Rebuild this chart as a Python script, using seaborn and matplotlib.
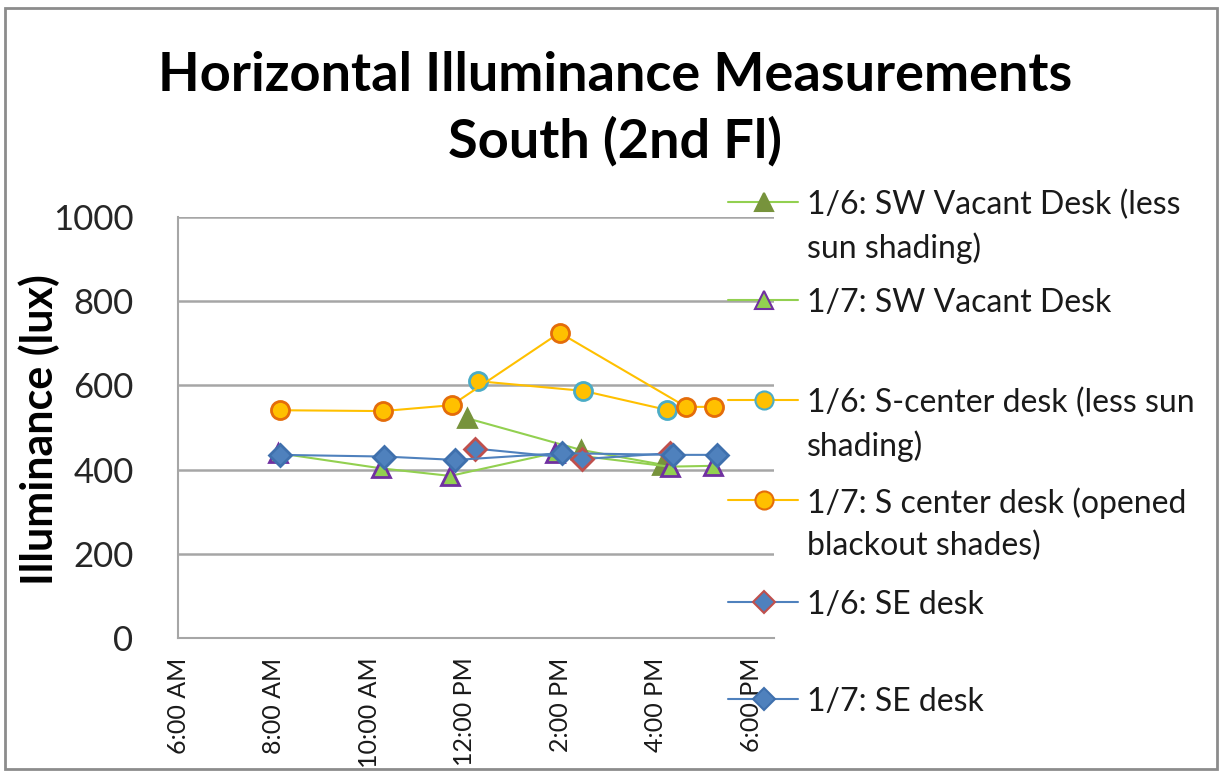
import matplotlib
matplotlib.use("Agg")
import matplotlib.pyplot as plt
from matplotlib.lines import Line2D
from matplotlib.patches import Rectangle
import seaborn as sns
import pandas as pd

sns.set_style("white")
plt.rcParams['font.family'] = ['Lato', 'DejaVu Sans']

# DATA (hours of day, lux)
sw_vacant_0106_hours = [12.05, 14.43, 16.13]
sw_vacant_0106_lux = [522, 447, 412]

sw_vacant_0107_hours = [8.10, 10.25, 11.70, 13.90, 16.30, 17.21]
sw_vacant_0107_lux = [439, 403, 385, 440, 407, 409]

s_center_0106_hours = [12.29, 14.49, 16.23]
s_center_0106_lux = [610, 587, 542]

s_center_0107_hours = [8.14, 10.29, 11.73, 13.99, 16.64, 17.23]
s_center_0107_lux = [541, 539, 553, 725, 549, 549]

se_0106_hours = [12.22, 14.47, 16.30]
se_0106_lux = [450, 425, 439]

se_0107_hours = [8.14, 10.32, 11.81, 14.04, 16.36, 17.28]
se_0107_lux = [435, 431, 423, 439, 435, 435]

labels = [
    '1/6: SW Vacant Desk (less\nsun shading)',
    '1/7: SW Vacant Desk',
    '1/6: S-center desk (less sun\nshading)',
    '1/7: S center desk (opened\nblackout shades)',
    '1/6: SE desk',
    '1/7: SE desk',
]
tick_hours = [6, 8, 10, 12, 14, 16, 18]
tick_labels = ['6:00 AM', '8:00 AM', '10:00 AM', '12:00 PM', '2:00 PM', '4:00 PM', '6:00 PM']
y_ticks = [0, 200, 400, 600, 800, 1000]

# label, hours, lux, line colour, marker, face, edge, size
series = [
    (labels[0], sw_vacant_0106_hours, sw_vacant_0106_lux, '#92D050', '^', '#77933C', '#77933C', 13),
    (labels[1], sw_vacant_0107_hours, sw_vacant_0107_lux, '#92D050', '^', '#92D050', '#7030A0', 13),
    (labels[2], s_center_0106_hours, s_center_0106_lux, '#FFC000', 'o', '#FFC000', '#4BACC6', 13),
    (labels[3], s_center_0107_hours, s_center_0107_lux, '#FFC000', 'o', '#FFC000', '#E46C0A', 13),
    (labels[4], se_0106_hours, se_0106_lux, '#4F81BD', 'D', '#4F81BD', '#C0504D', 11),
    (labels[5], se_0107_hours, se_0107_lux, '#4F81BD', 'D', '#4F81BD', '#3F70AD', 11),
]

W, H = 1221, 772
fig = plt.figure(figsize=(W / 100, H / 100), dpi=100)
ax = fig.add_axes([178 / W, 1 - 638 / H, (774 - 178) / W, (638 - 217) / H])

for label, hrs, lux, lc, mk, fc, ec, ms in series:
    df = pd.DataFrame({'hour': hrs, 'lux': lux})
    sns.lineplot(data=df, x='hour', y='lux', ax=ax, color=lc, linewidth=1.5,
                 marker=mk, markersize=ms, markerfacecolor=fc,
                 markeredgecolor=ec, markeredgewidth=2, estimator=None,
                 sort=False, label=None)

ax.set_xlim(6, 18.48)
ax.set_ylim(0, 1000)
ax.set_xticks(tick_hours)
ax.set_xticklabels(tick_labels, rotation=90, fontsize=18, color='#1a1a1a')
ax.set_yticks(y_ticks)
ax.set_yticklabels([str(v) for v in y_ticks], fontsize=25)
ax.tick_params(axis='y', direction='out', length=10, width=1.5, color='#a0a0a0', pad=22)
ax.tick_params(axis='x', direction='out', length=7, width=1.5, color='#a0a0a0', pad=7)
ax.yaxis.grid(True, color='#a6a6a6', linewidth=1.8)
ax.set_axisbelow(True)
for side in ['top', 'right']:
    ax.spines[side].set_visible(False)
for side in ['left', 'bottom']:
    ax.spines[side].set_color('#a6a6a6')
    ax.spines[side].set_linewidth(1.5)
ax.set_xlabel('')
ax.set_ylabel('')
fig.text(39 / W, 1 - 430 / H, 'Illuminance (lux)', rotation=90, fontsize=31,
         fontweight='bold', ha='center', va='center', color='black')

# title
fig.text(615 / W, 1 - 109 / H, 'Horizontal Illuminance Measurements\nSouth (2nd Fl)',
         fontsize=39, fontweight='bold', ha='center', va='center', linespacing=1.39,
         color='black')

# legend, drawn by hand so the marker sits on the first text line
legend_y = [202, 300, 400, 500, 602, 699]
for (label, hrs, lux, lc, mk, fc, ec, ms), ly in zip(series, legend_y):
    yf = 1 - ly / H
    fig.add_artist(Line2D([728 / W, 798 / W], [yf, yf], transform=fig.transFigure,
                          color=lc, linewidth=1.5))
    fig.add_artist(Line2D([764 / W], [yf], transform=fig.transFigure, marker=mk,
                          markersize=ms, markerfacecolor=fc, markeredgecolor=ec,
                          markeredgewidth=1.5, linestyle='none'))
    for i, line in enumerate(label.split('\n')):
        fig.text(807 / W, 1 - (ly + 43 * i) / H, line, fontsize=23, ha='left',
                 va='center_baseline', color='#1a1a1a')

# chart border
fig.add_artist(Rectangle((5 / W, 1 - 769 / H), 1212 / W, 761 / H, transform=fig.transFigure,
                         fill=False, edgecolor='#8c8c8c', linewidth=2))

fig.savefig('out.png', dpi=100)
